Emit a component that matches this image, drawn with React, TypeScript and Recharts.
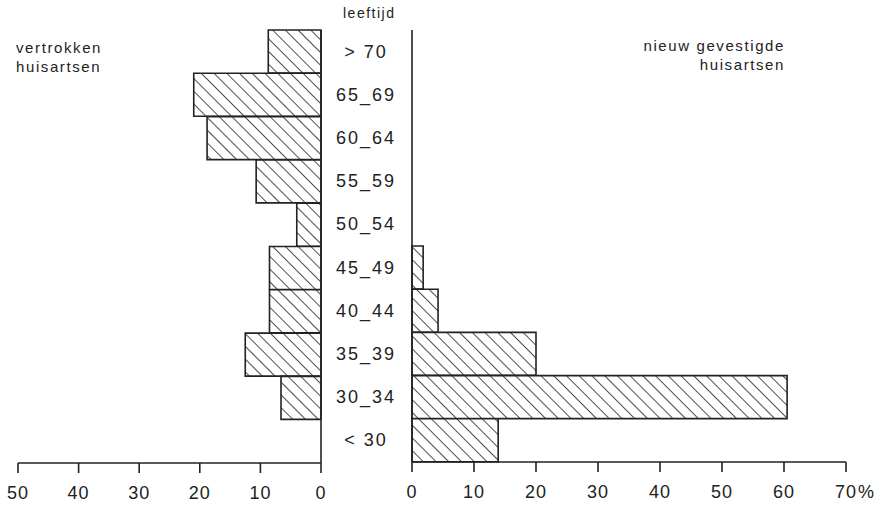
import React from 'react';
import { BarChart, Bar, XAxis, YAxis, ReferenceLine } from 'recharts';

const AGE_GROUPS = ['> 70', '65_69', '60_64', '55_59', '50_54', '45_49', '40_44', '35_39', '30_34', '< 30'];
const DEPARTED = [8.7, 21, 18.8, 10.7, 4, 8.5, 8.5, 12.5, 6.6, 0];
const NEW_SETTLED = [0, 0, 0, 0, 0, 1.8, 4.2, 20, 60.5, 13.9];
const LEFT_TICKS = [0, 10, 20, 30, 40, 50];
const RIGHT_TICKS = [0, 10, 20, 30, 40, 50, 60, 70];

const INK = '#222';
const FONT = '"Liberation Sans", Arial, Helvetica, sans-serif';

const data = AGE_GROUPS.map((age, i) => ({
  age,
  departed: DEPARTED[i],
  settled: NEW_SETTLED[i],
}));

const NumTick = ({ x, y, payload, pct }: any) => (
  <g>
    <text x={x} y={y} dy={12} textAnchor="middle" fontSize={18} fill={INK} fontFamily={FONT} letterSpacing={1}>
      {payload.value}
    </text>
    {pct && payload.value === 70 && (
      <text x={x + 12} y={y} dy={12} textAnchor="start" fontSize={18} fill={INK} fontFamily={FONT}>
        %
      </text>
    )}
  </g>
);

const AgeTick = ({ x, y, payload }: any) => (
  <text x={x - 46} y={y} dy={6} textAnchor="middle" fontSize={18} fill={INK} fontFamily={FONT} letterSpacing={2}>
    {payload.value}
  </text>
);

export default function App() {
  return (
    <div style={{ position: 'fixed', top: 0, left: 0, width: 880, height: 505, background: '#fff', fontFamily: FONT }}>
      <svg width={0} height={0} style={{ position: 'absolute' }}>
        <defs>
          <pattern id="hatch" width={9} height={9} patternUnits="userSpaceOnUse" patternTransform="rotate(-45)">
            <rect width={9} height={9} fill="#fff" />
            <line x1={0} y1={0} x2={0} y2={9} stroke={INK} strokeWidth={1.6} />
          </pattern>
        </defs>
      </svg>

      <div style={{ position: 'absolute', left: 0, top: 0 }}>
        <BarChart
          width={340}
          height={505}
          data={data}
          layout="vertical"
          margin={{ top: 30, left: 18, right: 19, bottom: 0 }}
          barCategoryGap={0}
          barGap={0}
        >
          <XAxis
            type="number"
            domain={[0, 50]}
            ticks={LEFT_TICKS}
            reversed
            height={42}
            stroke={INK}
            strokeWidth={1.6}
            tickSize={10}
            tickMargin={14}
            tick={<NumTick />}
          />
          <YAxis type="category" dataKey="age" hide />
          <ReferenceLine x={0} stroke={INK} strokeWidth={1.6} />
          <Bar dataKey="departed" fill="url(#hatch)" stroke={INK} strokeWidth={1.6} isAnimationActive={false} />
        </BarChart>
      </div>

      <div style={{ position: 'absolute', left: 330, top: 0 }}>
        <BarChart
          width={550}
          height={505}
          data={data}
          layout="vertical"
          margin={{ top: 30, left: 0, right: 34, bottom: 0 }}
          barCategoryGap={0}
          barGap={0}
        >
          <XAxis
            type="number"
            domain={[0, 70]}
            ticks={RIGHT_TICKS}
            height={43}
            stroke={INK}
            strokeWidth={1.6}
            tickSize={10}
            tickMargin={14}
            tick={<NumTick pct />}
          />
          <YAxis
            type="category"
            dataKey="age"
            width={82}
            stroke={INK}
            strokeWidth={1.6}
            tickSize={0}
            tickMargin={0}
            tick={<AgeTick />}
          />
          <Bar dataKey="settled" fill="url(#hatch)" stroke={INK} strokeWidth={1.6} isAnimationActive={false} />
        </BarChart>
      </div>

      <div style={{ position: 'absolute', left: 343, top: 5, fontSize: 14, color: INK, letterSpacing: 1.5 }}>leeftijd</div>
      <div style={{ position: 'absolute', left: 16, top: 38, fontSize: 15, lineHeight: '19px', color: INK, letterSpacing: 1.6 }}>
        vertrokken
        <br />
        huisartsen
      </div>
      <div style={{ position: 'absolute', right: 880 - 785, top: 36, fontSize: 15, lineHeight: '19px', color: INK, letterSpacing: 1.6, textAlign: 'right' }}>
        nieuw gevestigde
        <br />
        huisartsen
      </div>
    </div>
  );
}
